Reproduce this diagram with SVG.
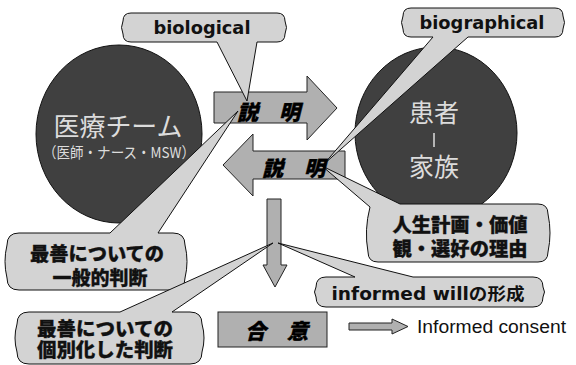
<svg xmlns="http://www.w3.org/2000/svg" width="576" height="365" viewBox="0 0 576 365">
<defs>
<style>
.ell{fill:#404040;stroke:#111;stroke-width:1}
.etx{fill:#dcdcdc;font-family:"Noto Sans CJK JP",sans-serif;text-anchor:middle}
.arr{fill:#b0b0b0;stroke:#222;stroke-width:1}
.call{fill:#d3d3d3;stroke:#111;stroke-width:1;stroke-linejoin:round}
.en{font-family:"DejaVu Sans","Noto Sans CJK JP",sans-serif;font-weight:bold;fill:#111;text-anchor:middle}
.jp{font-family:"Noto Sans CJK JP",sans-serif;font-weight:900;fill:#111;stroke:#111;stroke-width:0.3;text-anchor:middle}
.exp{font-family:"Noto Sans CJK JP",sans-serif;font-weight:900;font-style:italic;fill:#000;stroke:#000;stroke-width:0.4}
</style>
</defs>
<rect width="576" height="365" fill="#fff"/>

<g id="team">
<ellipse class="ell" cx="119" cy="134" rx="83" ry="89"/>
<text class="etx" x="118" y="136" font-size="26" textLength="129" lengthAdjust="spacingAndGlyphs">医療チーム</text>
<text class="etx" x="119" y="158" font-size="15" font-family="'Liberation Serif','Noto Sans CJK JP',serif" textLength="152" lengthAdjust="spacingAndGlyphs">（医師・ナース・MSW）</text>
</g>

<g id="patient">
<ellipse class="ell" cx="436" cy="133" rx="81" ry="86"/>
<text class="etx" x="434" y="122" font-size="25">患者</text>
<line x1="434" y1="133" x2="434" y2="147" stroke="#dcdcdc" stroke-width="1.5"/>
<text class="etx" x="434" y="176" font-size="25">家族</text>
</g>

<g id="connectors">
<polygon id="arrow-right" class="arr" points="214,92 307,92 307,76 337,108 307,140 307,123 214,123"/>
<polygon id="arrow-left" class="arr" points="345,151 253,151 253,134 223,165 253,196 253,179 345,179"/>
<polygon id="arrow-down" class="arr" points="267,199 281,199 281,265 287,265 275,287 263,265 267,265"/>
<polygon id="arrow-small" class="arr" points="349,323 392,323 392,319 408,326.5 392,334 392,330 349,330"/>
</g>

<g id="agreement">
<rect x="218" y="312" width="109" height="35" fill="#b0b0b0" stroke="#222" stroke-width="1"/>
<text class="exp" x="245" y="339" font-size="21">合　意</text>
</g>

<g id="informed-consent">
<text x="417" y="333" font-family="'Liberation Sans',sans-serif" font-size="18" fill="#111" textLength="149" lengthAdjust="spacingAndGlyphs">Informed consent</text>
</g>

<g id="callout-biological">
<path class="call" d="M131,13 L277,13 Q285,13 285,21 Q288,27.5 285,34 Q285,42 277,42 L257,42 L247,101 L217,42 L131,42 Q123,42 123,34 Q120,27.5 123,21 Q123,13 131,13 Z"/>
<text class="en" x="202" y="34" font-size="17" textLength="97" lengthAdjust="spacingAndGlyphs">biological</text>
</g>

<g id="callout-biographical">
<path class="call" d="M411,8 L555,8 Q563,8 563,16 Q566,22.5 563,29 Q563,37 555,37 L468,37 L324,164 L433,37 L411,37 Q403,37 403,29 Q400,22.5 403,16 Q403,8 411,8 Z"/>
<text class="en" x="482" y="29" font-size="17" textLength="125" lengthAdjust="spacingAndGlyphs">biographical</text>
</g>

<g id="callout-values">
<path class="call" d="M370,207 L322,166 L400,204 L538,204 Q548,204 548,214 Q552,233 548,252 Q548,262 538,262 L378,262 Q368,262 368,252 Q364,230 370,207 Z"/>
<text class="jp" x="460" y="232" font-size="19" textLength="135" lengthAdjust="spacingAndGlyphs">人生計画・価値</text>
<text class="jp" x="460" y="256" font-size="19" textLength="135" lengthAdjust="spacingAndGlyphs">観・選好の理由</text>
</g>

<g id="callout-will">
<path class="call" d="M326,277 L355,277 L278,243 L413,277 L533,277 Q543,277 543,287 Q546,292 543,297 Q543,307 533,307 L326,307 Q316,307 316,297 Q313,292 316,287 Q316,277 326,277 Z"/>
<text class="en" x="428" y="300" font-size="17" textLength="193" lengthAdjust="spacingAndGlyphs">informed willの形成</text>
</g>

<g id="callout-general">
<path class="call" d="M19,233 L110,233 L238,111 L158,233 L173,233 Q185,233 185,245 Q189,261.5 185,278 Q185,290 173,290 L19,290 Q7,290 7,278 Q3,261.5 7,245 Q7,233 19,233 Z"/>
<text class="jp" x="97" y="261" font-size="19" textLength="134" lengthAdjust="spacingAndGlyphs">最善についての</text>
<text class="jp" x="100" y="285" font-size="19">一般的判断</text>
</g>

<g id="callout-individual">
<path class="call" d="M29,312 L120,312 L273,243 L172,312 L190,312 Q202,312 202,324 Q206,338 202,352 Q202,364 190,364 L29,364 Q17,364 17,352 Q13,338 17,324 Q17,312 29,312 Z"/>
<text class="jp" x="105" y="336" font-size="19" textLength="136" lengthAdjust="spacingAndGlyphs">最善についての</text>
<text class="jp" x="105" y="357" font-size="19" textLength="136" lengthAdjust="spacingAndGlyphs">個別化した判断</text>
</g>

<g id="labels">
<text class="exp" x="237" y="120" font-size="21">説　明</text>
<text class="exp" x="262" y="176" font-size="21">説　明</text>
</g>
</svg>
